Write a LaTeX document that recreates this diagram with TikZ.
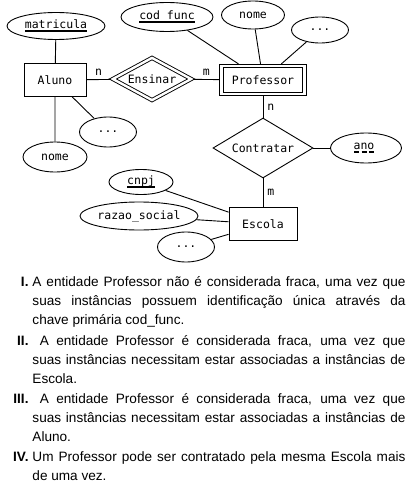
\documentclass[tikz,border=0pt]{standalone}
\usepackage{fontspec}
\usetikzlibrary{shapes.geometric}
\setmainfont{Liberation Sans}
\newfontfamily\ermono{DejaVu Sans Mono}
% underlined keys
\newcommand{\keyline}[1]{\setbox0=\hbox{#1}\rlap{\copy0}\raisebox{-3pt}{\rule{\wd0}{1.5pt}}}
\newcommand{\partline}[1]{\setbox0=\hbox{#1}\rlap{\copy0}\hspace{-4pt}\raisebox{-3.5pt}{\hbox to\dimexpr\wd0+8pt\relax{\cleaders\hbox{\hspace{1.2pt}\rule{5pt}{1.5pt}\hspace{1.2pt}}\hfill}}\hspace{-4pt}}

\begin{document}
\begin{tikzpicture}[x=1pt,y=-1pt,line width=0.9pt,
    every node/.style={font=\ermono\fontsize{11.5}{13}\selectfont,inner sep=0},
    ent/.style={draw,rectangle,minimum width=#1,minimum height=33},
    weakent/.style={draw,rectangle,double,double distance=2.4pt,outer sep=2.1pt,minimum width=#1,minimum height=28},
    rel/.style 2 args={draw,diamond,aspect=1.7,minimum width=#1,minimum height=#2},
    attr/.style 2 args={draw,ellipse,minimum width=#1,minimum height=#2},
    itemtext/.style={anchor=base west,text width=373pt,align=justify,font=\fontsize{13.6}{19}\selectfont},
    itemlbl/.style={anchor=base east,font=\bfseries\fontsize{13.6}{19}\selectfont}]
  \useasboundingbox (0,0) rectangle (408,484);
  % entities
  \node[ent=62] (aluno) at (55,80) {Aluno};
  \node[weakent=83] (prof) at (263,80) {Professor};
  \node[ent=68] (escola) at (263,224) {Escola};
  % relationships
  \node[rel={80}{44},double,double distance=2.4pt,outer sep=2.1pt] (ensinar) at (152,79) {Ensinar};
  \node[rel={100}{60}] (contratar) at (263,148) {Contratar};
  % attributes
  \node[attr={98}{27}] (matricula) at (56,26) {\keyline{matricula}};
  \node[attr={64}{30}] (anome) at (55,157) {nome};
  \node[attr={57}{30}] (adots) at (108,132) {...};
  \node[attr={92}{29}] (codfunc) at (167,17) {\keyline{cod\_func}};
  \node[attr={63}{28}] (pnome) at (253,15) {nome};
  \node[attr={57}{26}] (pdots) at (320,30) {...};
  \node[attr={71}{30}] (ano) at (366,148) {\partline{ano}};
  \node[attr={64}{25}] (cnpj) at (141,182) {\keyline{cnpj}};
  \node[attr={118}{28}] (razao) at (139,216) {razao\_social};
  \node[attr={57}{30}] (edots) at (186,247) {...};
  % connectors
  \draw (matricula) -- (aluno) (aluno) -- (anome) (aluno) -- (adots);
  \draw (codfunc) -- (prof) (pnome) -- (prof) (pdots) -- (prof);
  \draw (cnpj) -- (escola) (razao) -- (escola) (edots) -- (escola);
  \draw (aluno) -- node[above=4pt] {n} (ensinar) -- node[above=4pt] {m} (prof);
  \draw (prof) -- node[right=4pt] {n} (contratar) -- node[right=4pt] {m} (escola);
  \draw (contratar) -- (ano);
  % statements
  \node[itemlbl] (lblI) at (29,286) {I.};
  \node[itemtext] (itemI) at (32,286) {A entidade Professor não é considerada fraca, uma vez que\linebreak suas instâncias possuem identificação única através da\linebreak chave primária cod\_func.};
  \node[itemlbl] (lblII) at (29,345) {II.};
  \node[itemtext] (itemII) at (32,345) {\ A entidade Professor é considerada fraca, uma vez que\linebreak suas instâncias necessitam estar associadas a instâncias de\linebreak Escola.};
  \node[itemlbl] (lblIII) at (29,403) {III.};
  \node[itemtext] (itemIII) at (32,403) {\ A entidade Professor é considerada fraca, uma vez que\linebreak suas instâncias necessitam estar associadas a instâncias de\linebreak Aluno.};
  \node[itemlbl] (lblIV) at (29,461) {IV.};
  \node[itemtext] (itemIV) at (32,461) {Um Professor pode ser contratado pela mesma Escola mais\linebreak de uma vez.};
\end{tikzpicture}
\end{document}
